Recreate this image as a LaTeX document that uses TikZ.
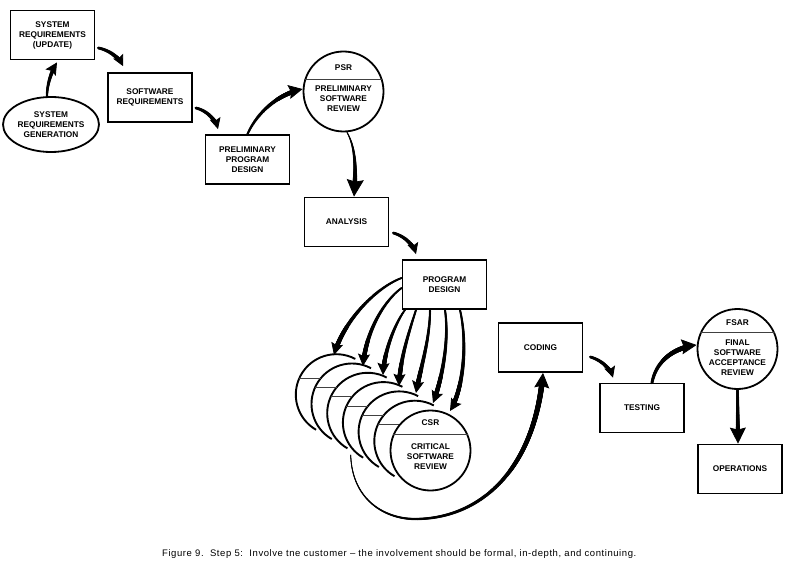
\documentclass[tikz,border=0pt]{standalone}
\usepackage{fontspec}
\setmainfont{Liberation Sans}
\newfontfamily\capfam[LetterSpace=6]{Liberation Sans}
\usetikzlibrary{arrows.meta,decorations.markings,shapes.geometric}
\newcommand\lblfont{\fontsize{8.3}{10}\selectfont\bfseries}
\newcommand\capfont{\capfam\fontsize{9.5}{11}\selectfont}
\tikzset{
  box/.style={draw, line width=1.8pt, minimum width=84pt, minimum height=49pt, inner sep=0pt, align=center, font=\lblfont},
  oval/.style={ellipse, draw, line width=1.8pt, minimum width=96pt, minimum height=55pt, inner sep=0pt, align=center, font=\lblfont},
  review/.style={circle, draw, line width=1.8pt, minimum size=80pt, inner sep=0pt},
  lbl/.style={align=center, font=\lblfont, inner sep=0pt},
  chord/.style={line width=0.7pt, black!75},
  rim/.style={line width=1.9pt},
  arr/.style={line width=0.8pt, -{Stealth[length=#1, width=#1, inset=2pt]}},
  arr/.default=11pt,
  brush/.style n args={3}{decoration={markings, mark=between positions 0 and 1 step 0.4pt with {%
      \pgfmathsetmacro\bd{\pgfkeysvalueof{/pgf/decoration/mark info/distance from start}}%
      \pgfmathtruncatemacro\bok{\bd < \pgfdecoratedpathlength - #3 ? 1 : 0}%
      \ifnum\bok=1 \pgfmathsetmacro\br{#1+(#2-#1)*\bd/\pgfdecoratedpathlength}\fill (0,0) circle[radius=\br pt];\fi}}, decorate},
}
% [head size]{start radius}{end radius}{stop before end}{path}
\newcommand\brarrow[5][11pt]{\draw[arr=#1] #5; \path[brush={#2}{#3}{#4}] #5;}
\begin{document}
\begin{tikzpicture}[x=1pt,y=-1pt]
\useasboundingbox (0,0) rectangle (790,564);
% ---- nodes
\node[box] (sru) at (52.5,35) {SYSTEM\\REQUIREMENTS\\(UPDATE)};
\node[oval] (srg) at (51,124.5) {SYSTEM\\REQUIREMENTS\\GENERATION};
\node[box] (swr) at (150,97.5) {SOFTWARE\\REQUIREMENTS};
\node[box] (ppd) at (247.5,159.5) {PRELIMINARY\\PROGRAM\\DESIGN};
\node[review] (psr) at (343.5,91.5) {};
\draw[chord] (psr.163) -- (psr.17);
\node[lbl] (psrt) at (343.5,67.5) {PSR};
\node[lbl] (psrn) at (343.5,99) {PRELIMINARY\\SOFTWARE\\REVIEW};
\node[box] (ana) at (346.5,222) {ANALYSIS};
\node[box] (pd) at (444.5,284.5) {PROGRAM\\DESIGN};
% ---- stacked review circles behind CSR
\foreach \k in {1,...,6}{
  \coordinate (b\k) at ({430.5-15.7*\k},{450.5-9.3*\k});
  \draw[rim] ([shift={(62:40.5pt)}]b\k) arc[start angle=62, end angle=240, radius=40.5pt];
  \draw[chord] ([shift={(-37pt,16.5pt)}]b\k) -- ([shift={(-15.5pt,16.5pt)}]b\k);
}
\node[review] (csr) at (430.5,450.5) {};
\draw[chord] (csr.156) -- (csr.24);
\node[lbl] (csrt) at (430.5,423) {CSR};
\node[lbl] (csrn) at (430.5,457) {CRITICAL\\SOFTWARE\\REVIEW};
\node[box] (cod) at (540.5,347.5) {CODING};
\node[box] (tst) at (642,408) {TESTING};
\node[review] (fsar) at (737.5,349) {};
\draw[chord] (fsar.156) -- (fsar.24);
\node[lbl] (fsart) at (737.5,323) {FSAR};
\node[lbl] (fsarn) at (737.5,357.5) {FINAL\\SOFTWARE\\ACCEPTANCE\\REVIEW};
\node[box] (ops) at (740,469) {OPERATIONS};
% ---- free arrow ends
\coordinate (t1) at (334,355);
\coordinate (t2) at (363,366);
\coordinate (t3) at (383,375);
\coordinate (t4) at (399,386);
\coordinate (t5) at (416,393);
\coordinate (t6) at (433,403);
\coordinate (t7) at (450,411);
\coordinate (csrtail) at (350.7,455);
% ---- connectors
\brarrow[12pt]{1.1}{2.2}{8}{([xshift=-4pt]srg.north) .. controls (47,85) and (51,72) .. ([xshift=4.5pt,yshift=-2pt]sru.south)}
\brarrow[11pt]{1.4}{2.3}{7}{([xshift=3pt,yshift=-13pt]sru.east) .. controls (108,50) and (118,56) .. ([xshift=-27pt,yshift=6pt]swr.north)}
\brarrow[11pt]{1.4}{2.3}{7}{([xshift=3pt,yshift=-10.5pt]swr.east) .. controls (205,110) and (215,118) .. ([xshift=-29.5pt,yshift=5pt]ppd.north)}
\brarrow[14pt]{1.1}{2.5}{9}{(ppd.north) .. controls (256,115) and (275,95) .. ([yshift=2.5pt]psr.west)}
\brarrow[17pt]{0.5}{2.7}{12}{([xshift=3.5pt]psr.south) .. controls (356,148) and (356,170) .. ([xshift=7.5pt]ana.north)}
\brarrow[11pt]{1.4}{2.3}{7}{([xshift=4pt,yshift=-11pt]ana.east) .. controls (404,236) and (413,244) .. ([xshift=-28.5pt,yshift=5pt]pd.north)}
% fan from program design
\brarrow[12pt]{1.0}{2.4}{8}{([yshift=6.5pt]pd.west) .. controls (375,288) and (343,322) .. (t1)}
\brarrow[12pt]{1.0}{2.4}{8}{([yshift=-3.5pt]pd.west) .. controls (385,300) and (366,330) .. (t2)}
\brarrow[12pt]{1.0}{2.4}{8}{([xshift=-39.5pt]pd.south) .. controls (396,322) and (384,350) .. (t3)}
\brarrow[12pt]{1.0}{2.4}{8}{([xshift=-28.5pt]pd.south) .. controls (408,335) and (400,360) .. (t4)}
\brarrow[12pt]{1.0}{2.4}{8}{([xshift=-14.5pt]pd.south) .. controls (430,340) and (420,370) .. (t5)}
\brarrow[12pt]{1.0}{2.4}{8}{([xshift=0.5pt]pd.south) .. controls (450,345) and (440,385) .. (t6)}
\brarrow[12pt]{1.0}{2.4}{8}{([xshift=15.5pt]pd.south) .. controls (468,345) and (463,390) .. (t7)}
% from the reviews back to coding
\brarrow[15pt]{0.4}{2.8}{10}{(csrtail) .. controls (352,500) and (385,519) .. (415,519) .. controls (480,519) and (535,470) .. ([xshift=2.5pt]cod.south)}
\brarrow[11pt]{1.4}{2.3}{7}{([xshift=7pt,yshift=-9.5pt]cod.east) .. controls (601,360) and (610,368) .. ([xshift=-29pt,yshift=5pt]tst.north)}
\brarrow[15pt]{1.5}{2.7}{10}{([xshift=10pt]tst.north) .. controls (656,362) and (672,348) .. ([yshift=4pt]fsar.west)}
\brarrow[16pt]{1.3}{2.3}{11}{(fsar.south) -- ([xshift=-2pt]ops.north)}
% ---- caption
\node[anchor=base west, font=\capfont, inner sep=0pt] (cap) at (162,556) {Figure 9.\ \ Step 5:\ \ Involve tne customer – the involvement should be formal, in-depth, and continuing.};
\end{tikzpicture}
\end{document}
